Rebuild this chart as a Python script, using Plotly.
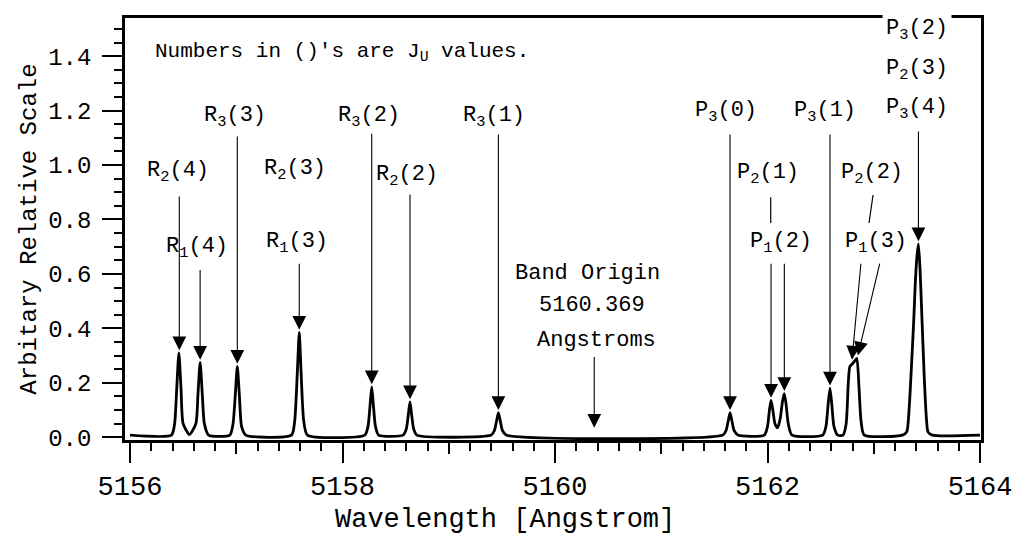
import plotly.graph_objects as go

# spectrum (wavelength in Angstrom, arbitrary intensity)
wavelength = [
    5156.00, 5156.39, 5156.42, 5156.44, 5156.46, 5156.48, 5156.50, 5156.56,
    5156.62, 5156.64, 5156.66, 5156.68, 5156.70, 5156.74,
    5156.94, 5156.97, 5156.99, 5157.01, 5157.03, 5157.05, 5157.09,
    5157.52, 5157.55, 5157.575, 5157.593, 5157.61, 5157.635, 5157.67,
    5158.21, 5158.24, 5158.26, 5158.275, 5158.29, 5158.31, 5158.34,
    5158.57, 5158.60, 5158.62, 5158.635, 5158.65, 5158.67, 5158.70,
    5159.40, 5159.43, 5159.45, 5159.467, 5159.485, 5159.505, 5159.54,
    5161.58, 5161.61, 5161.63, 5161.647, 5161.665, 5161.685, 5161.72,
    5161.97, 5162.00, 5162.018, 5162.033, 5162.05, 5162.07, 5162.095,
    5162.12, 5162.14, 5162.158, 5162.175, 5162.195, 5162.23,
    5162.52, 5162.55, 5162.57, 5162.588, 5162.605, 5162.625, 5162.66,
    5162.71, 5162.74, 5162.76, 5162.775, 5162.80, 5162.82, 5162.84, 5162.86,
    5162.88, 5162.91,
    5163.27, 5163.31, 5163.335, 5163.357, 5163.375, 5163.39, 5163.405,
    5163.42, 5163.435, 5163.455, 5163.475, 5163.495, 5163.51, 5163.55,
    5164.00,
]
intensity = [
    0.008, 0.008, 0.05, 0.18, 0.31, 0.18, 0.05, 0.010,
    0.05, 0.16, 0.275, 0.16, 0.05, 0.008,
    0.008, 0.05, 0.15, 0.26, 0.15, 0.04, 0.008,
    0.008, 0.06, 0.24, 0.385, 0.24, 0.06, 0.008,
    0.008, 0.04, 0.12, 0.185, 0.12, 0.04, 0.008,
    0.008, 0.03, 0.085, 0.13, 0.085, 0.03, 0.008,
    0.008, 0.025, 0.06, 0.09, 0.06, 0.025, 0.008,
    0.008, 0.025, 0.06, 0.09, 0.06, 0.025, 0.008,
    0.008, 0.04, 0.10, 0.135, 0.10, 0.05, 0.035,
    0.07, 0.13, 0.16, 0.12, 0.05, 0.008,
    0.008, 0.04, 0.12, 0.18, 0.12, 0.04, 0.008,
    0.008, 0.05, 0.20, 0.26, 0.27, 0.28, 0.29, 0.19,
    0.06, 0.008,
    0.008, 0.02, 0.12, 0.28, 0.42, 0.56, 0.66,
    0.71, 0.62, 0.42, 0.22, 0.07, 0.02, 0.008,
    0.008,
]

# rotational lines: label, peak wavelength, peak height
line_labels = ['R2(4)', 'R1(4)', 'R3(3)', 'R(3)', 'R3(2)', 'R2(2)', 'R3(1)',
               'P3(0)', 'P2(1)', 'P1(2)', 'P3(1)', 'P2(2)', 'P1(3)', 'P(2,3,4)']
line_wl = [5156.464, 5156.66, 5157.01, 5157.593, 5158.275, 5158.635, 5159.467,
           5161.647, 5162.033, 5162.158, 5162.588, 5162.795, 5162.85, 5163.42]
line_peak = [0.31, 0.275, 0.26, 0.385, 0.185, 0.13, 0.09,
             0.09, 0.135, 0.16, 0.18, 0.275, 0.29, 0.71]

band_origin = 5160.369

x_ticks = [5156, 5158, 5160, 5162, 5164]
x_mid_ticks = [5157, 5159, 5161, 5163]
y_ticks = [0.0, 0.2, 0.4, 0.6, 0.8, 1.0, 1.2, 1.4]

FONT = 'Liberation Mono, Courier New, monospace'
LABEL_SIZE = 22

fig = go.Figure()
fig.add_trace(go.Scatter(x=wavelength, y=intensity, mode='lines',
                         line=dict(color='black', width=2.8, shape='spline', smoothing=0.6),
                         hoverinfo='skip', showlegend=False))
# empty trace so the odd-integer tick axis gets drawn
fig.add_trace(go.Scatter(x=[], y=[], xaxis='x2', showlegend=False))

# where each arrow starts (x of tail, y of tail), one per line above
arrow_tails = [(None, 0.89), (None, 0.62), (None, 1.11), (None, 0.643), (None, 1.12),
               (None, 0.897), (None, 1.118), (None, 1.118), (None, 0.643), (None, 0.643),
               (None, 1.118), (5162.88, 0.643), (5163.059, 0.643), (None, 1.129)]

arrow_style = dict(xref='x', yref='y', axref='x', ayref='y', text='', showarrow=True,
                   arrowhead=2, arrowsize=2.5, arrowwidth=1.1, arrowcolor='black',
                   standoff=0, startstandoff=0)

annotations = []
for wl, pk, (tx, ty) in zip(line_wl, line_peak, arrow_tails):
    annotations.append(dict(x=wl, y=pk + 0.01, ax=wl if tx is None else tx, ay=ty, **arrow_style))
# band origin arrow
annotations.append(dict(x=band_origin, y=0.035, ax=band_origin, ay=0.30, **arrow_style))

# text labels (text, x, y)
labels = [
    ('R<sub>2</sub>(4)', 5156.452, 0.975),
    ('R<sub>1</sub>(4)', 5156.63, 0.695),
    ('R<sub>3</sub>(3)', 5156.988, 1.178),
    ('R<sub>2</sub>(3)', 5157.553, 0.983),
    ('R<sub>1</sub>(3)', 5157.572, 0.712),
    ('R<sub>3</sub>(2)', 5158.249, 1.178),
    ('R<sub>2</sub>(2)', 5158.607, 0.958),
    ('R<sub>3</sub>(1)', 5159.426, 1.178),
    ('Band Origin', 5160.301, 0.603),
    ('5160.369', 5160.348, 0.485),
    ('Angstroms', 5160.395, 0.357),
    ('P<sub>3</sub>(0)', 5161.609, 1.196),
    ('P<sub>2</sub>(1)', 5162.005, 0.968),
    ('P<sub>1</sub>(2)', 5162.127, 0.712),
    ('P<sub>3</sub>(1)', 5162.541, 1.196),
    ('P<sub>2</sub>(2)', 5162.984, 0.968),
    ('P<sub>1</sub>(3)', 5163.021, 0.712),
    ('P<sub>2</sub>(3)', 5163.407, 1.35),
    ('P<sub>3</sub>(4)', 5163.407, 1.204),
]
for text, x, y in labels:
    annotations.append(dict(x=x, y=y, xref='x', yref='y', text=text, showarrow=False,
                            font=dict(family=FONT, size=LABEL_SIZE, color='black')))
# this one sits on the top frame and blanks it out
annotations.append(dict(x=5163.407, y=1.495, xref='x', yref='y', text='P<sub>3</sub>(2)',
                        showarrow=False, bgcolor='white', borderpad=3,
                        font=dict(family=FONT, size=LABEL_SIZE, color='black')))
annotations.append(dict(x=5156.216, y=1.415, xref='x', yref='y', xanchor='left',
                        text="Numbers in ()'s are J<sub>U</sub> values.", showarrow=False,
                        font=dict(family=FONT, size=21, color='black')))
# x axis title, placed in pixels relative to the 856 x 422 plot area
annotations.append(dict(x=380 / 856, y=-80 / 422, xref='paper', yref='paper',
                        yanchor='middle', text='Wavelength [Angstrom]', showarrow=False,
                        font=dict(family=FONT, size=27, color='black')))

# short connector strokes under P2(1) and P2(2)
shapes = [
    dict(type='line', x0=5162.03, x1=5162.03, y0=0.882, y1=0.787, xref='x', yref='y',
         line=dict(color='black', width=1.2)),
    dict(type='line', x0=5162.993, x1=5162.955, y0=0.89, y1=0.787, xref='x', yref='y',
         line=dict(color='black', width=1.2)),
]

fig.update_layout(
    width=1015, height=536,
    margin=dict(l=125, r=34, t=18, b=96),
    paper_bgcolor='white', plot_bgcolor='white',
    font=dict(family=FONT, color='black'),
    showlegend=False,
    annotations=annotations,
    shapes=shapes,
    xaxis=dict(range=[5155.953, 5164.009], tickvals=x_ticks, ticks='outside', ticklen=20,
               tickwidth=2, tickcolor='black', ticklabelstandoff=0, automargin=False,
               tickfont=dict(family=FONT, size=27, color='black'),
               showline=True, linewidth=2.5, linecolor='black', mirror=True,
               showgrid=False, zeroline=False,
               minor=dict(dtick=0.2, tick0=5156, ticks='outside', ticklen=8, tickwidth=2,
                          tickcolor='black', showgrid=False)),
    xaxis2=dict(range=[5155.953, 5164.009], overlaying='x', anchor='y', side='bottom',
                tickvals=x_mid_ticks, ticks='outside', ticklen=13, tickwidth=2,
                tickcolor='black', showticklabels=False, showline=False, automargin=False,
                showgrid=False, zeroline=False),
    yaxis=dict(range=[-0.01, 1.54], tickvals=y_ticks, tickformat='.1f', ticks='outside',
               ticklen=20, tickwidth=2, tickcolor='black', ticklabelstandoff=6,
               automargin=False,
               tickfont=dict(family=FONT, size=24, color='black'),
               title=dict(text='Arbitary Relative Scale', standoff=5,
                          font=dict(family=FONT, size=24, color='black')),
               showline=True, linewidth=2.5, linecolor='black', mirror=True,
               showgrid=False, zeroline=False,
               minor=dict(dtick=0.05, tick0=0, ticks='outside', ticklen=8, tickwidth=2,
                          tickcolor='black', showgrid=False)),
)

# drop the default page margin so the 1015x536 figure fills the window exactly
fig.write_html('out.html', config={'displayModeBar': False},
               post_script="document.body.style.margin = '0';")
